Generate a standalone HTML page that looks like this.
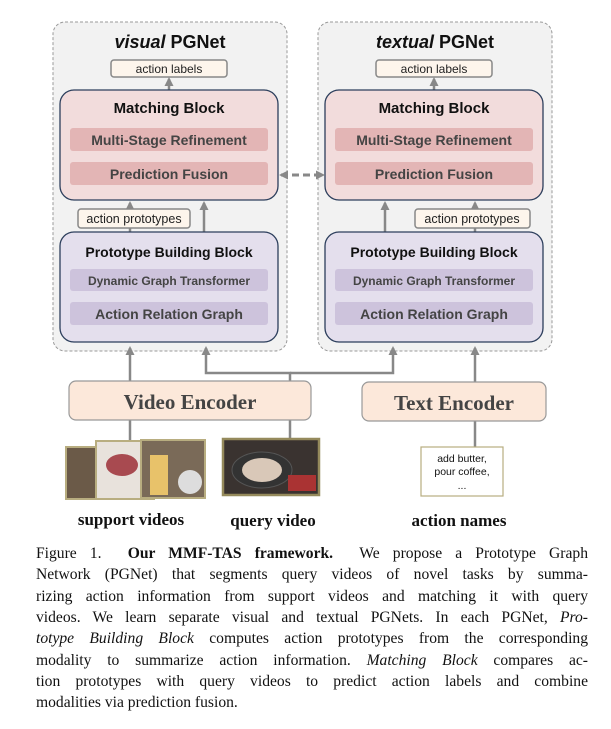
<!DOCTYPE html>
<html><head><style>
body{margin:0;width:611px;height:729px;background:#fff;position:relative;overflow:hidden}
.cap{position:absolute;left:36px;width:552px;font-family:"Liberation Serif",serif;font-size:15.6px;line-height:21px;text-align:justify;text-align-last:justify;white-space:nowrap;color:#111}
.cap.last{text-align-last:left}
</style></head><body>
<svg width="611" height="540" style="position:absolute;left:0;top:0" font-family="Liberation Sans, sans-serif">
<defs><marker id="ah" markerUnits="userSpaceOnUse" markerWidth="9" markerHeight="9" refX="7" refY="4.5" orient="auto-start-reverse"><path d="M0,0L9,4.5L0,9z" fill="#888"/></marker></defs>
<!-- panels -->
<rect x="53" y="22" width="234" height="329" rx="12" fill="#f2f2f2" stroke="#999" stroke-dasharray="3,2"/>
<rect x="318" y="22" width="234" height="329" rx="12" fill="#f2f2f2" stroke="#999" stroke-dasharray="3,2"/>
<g font-weight="bold" font-size="18" fill="#111" text-anchor="middle">
<text x="170" y="48"><tspan font-style="italic">visual</tspan> PGNet</text>
<text x="435" y="48"><tspan font-style="italic">textual</tspan> PGNet</text>
</g>
<g id="p">
<rect x="111" y="60" width="116" height="17" rx="3" fill="#fdf5ec" stroke="#888" stroke-width="1.5"/>
<text x="169" y="73" font-size="12" text-anchor="middle" fill="#222">action labels</text>
<line x1="169" y1="90" x2="169" y2="79" stroke="#888" stroke-width="2.5" marker-end="url(#ah)"/>
<rect x="60" y="90" width="218" height="110" rx="14" fill="#f2dcdc" stroke="#2c3e5c" stroke-width="1.3"/>
<text x="169" y="113" font-size="15" font-weight="bold" text-anchor="middle" fill="#111">Matching Block</text>
<rect x="70" y="128" width="198" height="23" rx="3" fill="#e3b5b5"/>
<text x="169" y="145" font-size="14" font-weight="bold" text-anchor="middle" fill="#444">Multi-Stage Refinement</text>
<rect x="70" y="162" width="198" height="23" rx="3" fill="#e3b5b5"/>
<text x="169" y="179" font-size="14" font-weight="bold" text-anchor="middle" fill="#444">Prediction Fusion</text>
<line x1="130" y1="232" x2="130" y2="203" stroke="#888" stroke-width="2.5" marker-end="url(#ah)"/>
<line x1="204" y1="232" x2="204" y2="203" stroke="#888" stroke-width="2.5" marker-end="url(#ah)"/>
<rect x="78" y="209" width="112" height="19" rx="3" fill="#fdf5ec" stroke="#888" stroke-width="1.5"/>
<text x="134" y="223" font-size="12.5" text-anchor="middle" fill="#222">action prototypes</text>
<rect x="60" y="232" width="218" height="110" rx="14" fill="#e4dfed" stroke="#2c3e5c" stroke-width="1.3"/>
<text x="169" y="257" font-size="14" font-weight="bold" text-anchor="middle" fill="#111">Prototype Building Block</text>
<rect x="70" y="269" width="198" height="22" rx="3" fill="#cdc3dc"/>
<text x="169" y="285" font-size="12" font-weight="bold" text-anchor="middle" fill="#444">Dynamic Graph Transformer</text>
<rect x="70" y="302" width="198" height="23" rx="3" fill="#cdc3dc"/>
<text x="169" y="319" font-size="14" font-weight="bold" text-anchor="middle" fill="#444">Action Relation Graph</text>
</g>
<g transform="translate(265,0)">
<rect x="111" y="60" width="116" height="17" rx="3" fill="#fdf5ec" stroke="#888" stroke-width="1.5"/>
<text x="169" y="73" font-size="12" text-anchor="middle" fill="#222">action labels</text>
<line x1="169" y1="90" x2="169" y2="79" stroke="#888" stroke-width="2.5" marker-end="url(#ah)"/>
<rect x="60" y="90" width="218" height="110" rx="14" fill="#f2dcdc" stroke="#2c3e5c" stroke-width="1.3"/>
<text x="169" y="113" font-size="15" font-weight="bold" text-anchor="middle" fill="#111">Matching Block</text>
<rect x="70" y="128" width="198" height="23" rx="3" fill="#e3b5b5"/>
<text x="169" y="145" font-size="14" font-weight="bold" text-anchor="middle" fill="#444">Multi-Stage Refinement</text>
<rect x="70" y="162" width="198" height="23" rx="3" fill="#e3b5b5"/>
<text x="169" y="179" font-size="14" font-weight="bold" text-anchor="middle" fill="#444">Prediction Fusion</text>
<line x1="120" y1="232" x2="120" y2="203" stroke="#888" stroke-width="2.5" marker-end="url(#ah)"/>
<line x1="210" y1="232" x2="210" y2="203" stroke="#888" stroke-width="2.5" marker-end="url(#ah)"/>
<rect x="150" y="209" width="115" height="19" rx="3" fill="#fdf5ec" stroke="#888" stroke-width="1.5"/>
<text x="207" y="223" font-size="12.5" text-anchor="middle" fill="#222">action prototypes</text>
<rect x="60" y="232" width="218" height="110" rx="14" fill="#e4dfed" stroke="#2c3e5c" stroke-width="1.3"/>
<text x="169" y="257" font-size="14" font-weight="bold" text-anchor="middle" fill="#111">Prototype Building Block</text>
<rect x="70" y="269" width="198" height="22" rx="3" fill="#cdc3dc"/>
<text x="169" y="285" font-size="12" font-weight="bold" text-anchor="middle" fill="#444">Dynamic Graph Transformer</text>
<rect x="70" y="302" width="198" height="23" rx="3" fill="#cdc3dc"/>
<text x="169" y="319" font-size="14" font-weight="bold" text-anchor="middle" fill="#444">Action Relation Graph</text>
</g>
<!-- dashed bidirectional -->
<line x1="281" y1="175" x2="323" y2="175" stroke="#888" stroke-width="3" stroke-dasharray="7,4" marker-start="url(#ah)" marker-end="url(#ah)"/>
<!-- connectors -->
<g stroke="#888" stroke-width="2.5" fill="none">
<line x1="130" y1="381" x2="130" y2="348" marker-end="url(#ah)"/>
<polyline points="290,381 290,373 206,373 206,348" marker-end="url(#ah)"/>
<polyline points="290,373 393,373 393,348" marker-end="url(#ah)"/>
<line x1="475" y1="382" x2="475" y2="348" marker-end="url(#ah)"/>
<line x1="130" y1="420" x2="130" y2="442"/>
<line x1="290" y1="420" x2="290" y2="440"/>
<line x1="475" y1="421" x2="475" y2="447"/>
</g>
<rect x="69" y="381" width="242" height="39" rx="7" fill="#fce8da" stroke="#999" stroke-width="1.2"/>
<text x="190" y="409" font-family="Liberation Serif, serif" font-weight="bold" font-size="21" fill="#444" text-anchor="middle">Video Encoder</text>
<rect x="362" y="382" width="184" height="39" rx="7" fill="#fce8da" stroke="#999" stroke-width="1.2"/>
<text x="454" y="410" font-family="Liberation Serif, serif" font-weight="bold" font-size="21" fill="#444" text-anchor="middle">Text Encoder</text>
<!-- images -->
<rect x="66" y="447" width="48" height="52" fill="#6b5a48" stroke="#b8ad80" stroke-width="2"/>
<rect x="96" y="441" width="58" height="58" fill="#e8e2dc" stroke="#b8ad80" stroke-width="2"/>
<ellipse cx="122" cy="465" rx="16" ry="11" fill="#a84a50"/>
<rect x="141" y="440" width="64" height="58" fill="#7a6a58" stroke="#b8ad80" stroke-width="2"/>
<rect x="150" y="455" width="18" height="40" fill="#e8c26a"/>
<circle cx="190" cy="482" r="12" fill="#ddd"/>
<rect x="223" y="439" width="96" height="56" fill="#3a3330" stroke="#958a5c" stroke-width="2.5"/>
<ellipse cx="262" cy="470" rx="30" ry="18" fill="#333" stroke="#555"/>
<ellipse cx="262" cy="470" rx="20" ry="12" fill="#d9c8b8"/>
<rect x="288" y="475" width="28" height="16" fill="#a33"/>
<rect x="421" y="447" width="82" height="49" fill="#fff" stroke="#b8ad80" stroke-width="1.2"/>
<g font-size="10.5" fill="#111" text-anchor="middle"><text x="462" y="462">add butter,</text><text x="462" y="475">pour coffee,</text><text x="462" y="489">...</text></g>
<g font-family="Liberation Serif, serif" font-weight="bold" font-size="17" fill="#111" text-anchor="middle">
<text x="131" y="525">support videos</text><text x="273" y="526">query video</text><text x="459" y="526">action names</text></g>
</svg>
<div class="cap" style="top:543px">Figure 1. &nbsp;<b>Our MMF-TAS framework.</b> &nbsp;We propose a Prototype Graph</div>
<div class="cap" style="top:564px">Network (PGNet) that segments query videos of novel tasks by summa-</div>
<div class="cap" style="top:586px">rizing action information from support videos and matching it with query</div>
<div class="cap" style="top:607px">videos. We learn separate visual and textual PGNets. In each PGNet, <i>Pro-</i></div>
<div class="cap" style="top:628px"><i>totype Building Block</i> computes action prototypes from the corresponding</div>
<div class="cap" style="top:650px">modality to summarize action information. <i>Matching Block</i> compares ac-</div>
<div class="cap" style="top:671px">tion prototypes with query videos to predict action labels and combine</div>
<div class="cap last" style="top:692px">modalities via prediction fusion.</div>
</body></html>
